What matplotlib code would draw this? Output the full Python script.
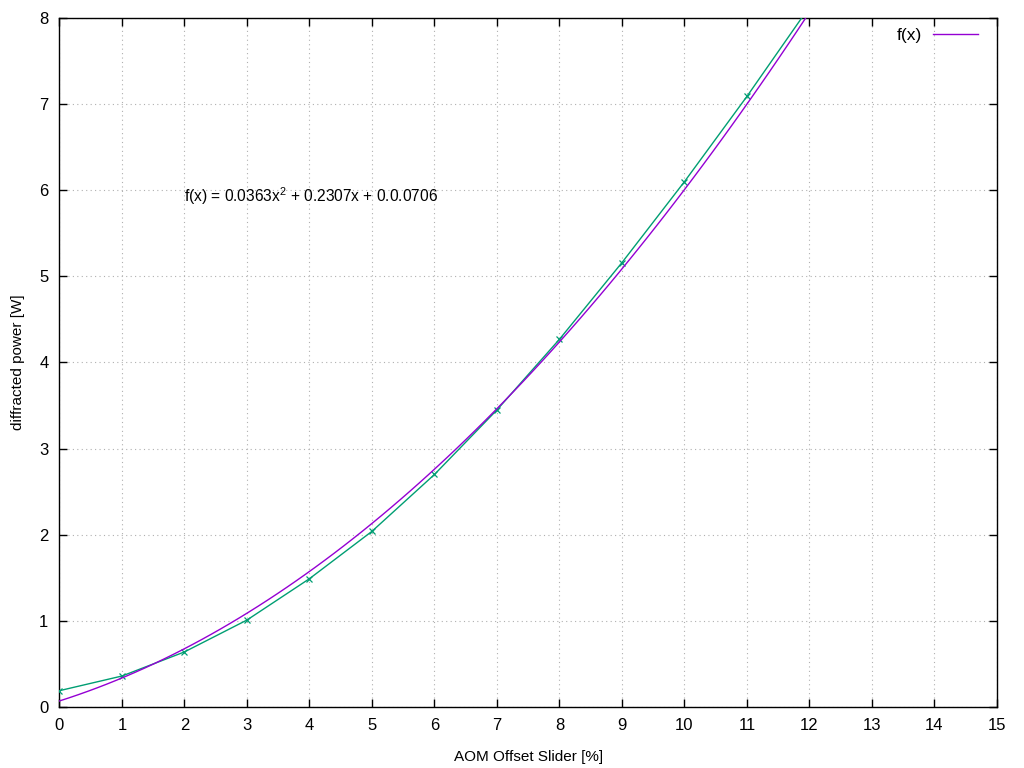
import numpy as np
from matplotlib import pyplot as plt

plt.rcParams['font.family'] = ['Liberation Sans', 'DejaVu Sans']

# measured points
slider = [0, 1, 2, 3, 4, 5, 6, 7, 8, 9, 10, 11, 12]
power = [0.19, 0.36, 0.64, 1.01, 1.49, 2.04, 2.70, 3.45, 4.27, 5.16, 6.10, 7.09, 8.13]

# fit coefficients (a, b, c) of f(x) = a x^2 + b x + c
fit_coef = [0.0363, 0.2307, 0.0706]
fit_label = "f(x) = 0.0363x$^{\\mathregular{2}}$ + 0.2307x + 0.0.0706"

green = "#009e73"
purple = "#9400d3"

fig = plt.figure(figsize=(10.24, 7.68), dpi=100)
ax = fig.add_axes([0.0581, 0.0794, 0.9155, 0.8972])

xs = np.linspace(0, 15, 100)
a, b, c = fit_coef
ax.plot(slider, power, color=green, lw=1.0, marker="x", ms=5, mew=0.9, zorder=3)
ax.plot(xs, a * xs**2 + b * xs + c, color=purple, lw=1.0, label="f(x)", zorder=3)

ax.set_xlim(0, 15)
ax.set_ylim(0, 8)
ax.set_xticks(range(0, 16))
ax.set_yticks(range(0, 9))
ax.tick_params(direction="in", top=True, right=True, length=6, width=1,
               labelsize=12, pad=8)
ax.grid(True, color="#b0b0b0", linestyle=(0, (1, 3)), linewidth=0.8)
for s in ax.spines.values():
    s.set_linewidth(1.0)

ax.set_xlabel("AOM Offset Slider [%]", fontsize=11, labelpad=12)
ax.set_ylabel("diffracted power [W]", fontsize=11, labelpad=10)

ax.text(2, 5.93, fit_label, fontsize=11.2, ha="left", va="center")

leg = ax.legend(loc="upper right", bbox_to_anchor=(0.99, 1.0), frameon=False,
                fontsize=12.5, markerfirst=False, handlelength=2.6,
                handletextpad=0.6, borderaxespad=0.15)

fig.savefig("out.png", dpi=100)
